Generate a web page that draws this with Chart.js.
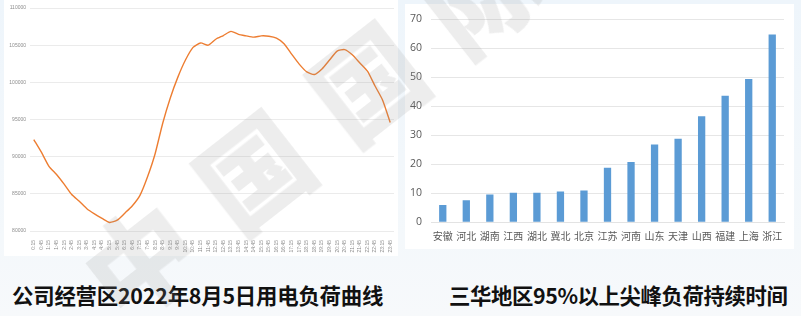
<!DOCTYPE html>
<html>
<head>
<meta charset="utf-8">
<script src="https://cdn.jsdelivr.net/npm/chart.js@4"></script>
<style>
    html, body { margin: 0; padding: 0; }
    body {
        width: 801px; height: 316px; overflow: hidden; position: relative;
        background: linear-gradient(180deg, #eef5fb 0%, #f4f8fb 75%, #f7f9fb 100%);
        font-family: "Noto Sans CJK SC", "Noto Sans", sans-serif;
    }
    .panel { position: absolute; background: #fff; }
    #leftPanel { left: 4px; top: 0; width: 394px; height: 256px; }
    #rightPanel { left: 405px; top: 4px; width: 389px; height: 245px; }
    .title {
        position: absolute; top: 279px; font-size: 21.4px; font-weight: 700;
        color: #111; white-space: nowrap; letter-spacing: -0.2px;
    }
    #leftTitle { left: 12px; }
    #rightTitle { left: 449px; letter-spacing: -0.4px; }
    #watermark {
        position: absolute; left: 95px; top: 236px; white-space: nowrap;
        font-size: 108px; font-weight: 900; letter-spacing: 36px;
        color: rgba(140, 140, 140, 0.16); transform-origin: 0 50%;
        transform: rotate(-38deg); pointer-events: none;
        font-family: "Noto Sans CJK SC", sans-serif; line-height: 1;
    }
</style>
</head>
<body>
<div class="panel" id="leftPanel"><canvas id="loadChart"></canvas></div>
<div class="panel" id="rightPanel"><canvas id="peakChart"></canvas></div>
<div class="title" id="leftTitle">公司经营区2022年8月5日用电负荷曲线</div>
<div class="title" id="rightTitle">三华地区95%以上尖峰负荷持续时间</div>
<div id="watermark">中国国际金融</div>
<script>
// Load curve, 30-minute steps
const timeLabels = ['0:15', '0:45', '1:15', '1:45', '2:15', '2:45', '3:15', '3:45',
    '4:15', '4:45', '5:15', '5:45', '6:15', '6:45', '7:15', '7:45',
    '8:15', '8:45', '9:15', '9:45', '10:15', '10:45', '11:15', '11:45',
    '12:15', '12:45', '13:15', '13:45', '14:15', '14:45', '15:15', '15:45',
    '16:15', '16:45', '17:15', '17:45', '18:15', '18:45', '19:15', '19:45',
    '20:15', '20:45', '21:15', '21:45', '22:15', '22:45', '23:15', '23:45'];
const loadValues = [92300, 90600, 88700, 87600, 86300, 84900, 84000, 83000,
    82300, 81700, 81150, 81450, 82400, 83400, 84800, 87300,
    90400, 94500, 97900, 100700, 103000, 104700, 105300, 105000,
    105800, 106300, 106850, 106450, 106250, 106080, 106250, 106200,
    105950, 105200, 103800, 102450, 101400, 101050, 101800, 103000,
    104200, 104400, 103700, 102600, 101500, 99500, 97600, 94600];
const loadTicks = [80000, 85000, 90000, 95000, 100000, 105000, 110000];

// Peak duration by region
const regions = ['安徽', '河北', '湖南', '江西', '湖北', '冀北', '北京', '江苏',
    '河南', '山东', '天津', '山西', '福建', '上海', '浙江'];
const peakHours = [6.0, 7.6, 9.6, 10.2, 10.2, 10.6, 11.0, 18.8,
    20.8, 26.8, 28.8, 36.6, 43.6, 49.4, 64.8];
const hourTicks = [0, 10, 20, 30, 40, 50, 60, 70];

function fixCanvas(id, w, h) {
    const c = document.getElementById(id);
    c.width = w; c.height = h;
    c.style.width = w + 'px'; c.style.height = h + 'px';
    return c.getContext('2d');
}

new Chart(fixCanvas('loadChart', 394, 256), {
    type: 'line',
    data: {
        labels: timeLabels,
        datasets: [{
            data: loadValues,
            borderColor: '#ed7d31',
            borderWidth: 1.4,
            pointRadius: 0,
            tension: 0.2,
            fill: false
        }]
    },
    options: {
        responsive: false,
        animation: false,
        layout: { padding: { top: 8, right: 4, left: 0, bottom: 0 } },
        plugins: { legend: { display: false }, tooltip: { enabled: false } },
        scales: {
            x: {
                offset: true,
                grid: { display: false },
                border: { display: false },
                ticks: {
                    autoSkip: false, maxRotation: 90, minRotation: 90,
                    padding: 1, color: '#8c8c8c',
                    font: { size: 5, family: 'Liberation Sans' }
                },
                afterFit: s => { s.height = 25; }
            },
            y: {
                min: 80000, max: 110000,
                afterBuildTicks: s => { s.ticks = loadTicks.map(v => ({ value: v })); },
                grid: { color: '#ebebeb', drawTicks: false },
                border: { display: false },
                ticks: {
                    padding: 4, color: '#8c8c8c',
                    font: { size: 5, family: 'Liberation Sans' },
                    callback: v => String(v)
                },
                afterFit: s => { s.width = 26; }
            }
        }
    }
});

new Chart(fixCanvas('peakChart', 389, 245), {
    type: 'bar',
    data: {
        labels: regions,
        datasets: [{
            data: peakHours,
            backgroundColor: '#5b9bd5',
            barPercentage: 0.31,
            categoryPercentage: 1
        }]
    },
    options: {
        responsive: false,
        animation: false,
        layout: { padding: { top: 7, right: 10, left: 0, bottom: 0 } },
        plugins: { legend: { display: false }, tooltip: { enabled: false } },
        scales: {
            x: {
                grid: { display: false },
                border: { display: true, color: '#e3e3e3' },
                ticks: {
                    autoSkip: false, maxRotation: 0, padding: 0, color: '#595959',
                    font: { size: 10, family: 'Noto Sans CJK SC' }
                },
                afterFit: s => { s.height = 26.7; }
            },
            y: {
                min: 0, max: 70,
                afterBuildTicks: s => { s.ticks = hourTicks.map(v => ({ value: v })); },
                grid: { color: '#e6e6e6', drawTicks: false },
                border: { display: false },
                ticks: {
                    padding: 9, color: '#595959',
                    font: { size: 10.5, family: 'Open Sans' }
                },
                afterFit: s => { s.width = 26; }
            }
        }
    }
});
</script>
</body>
</html>
